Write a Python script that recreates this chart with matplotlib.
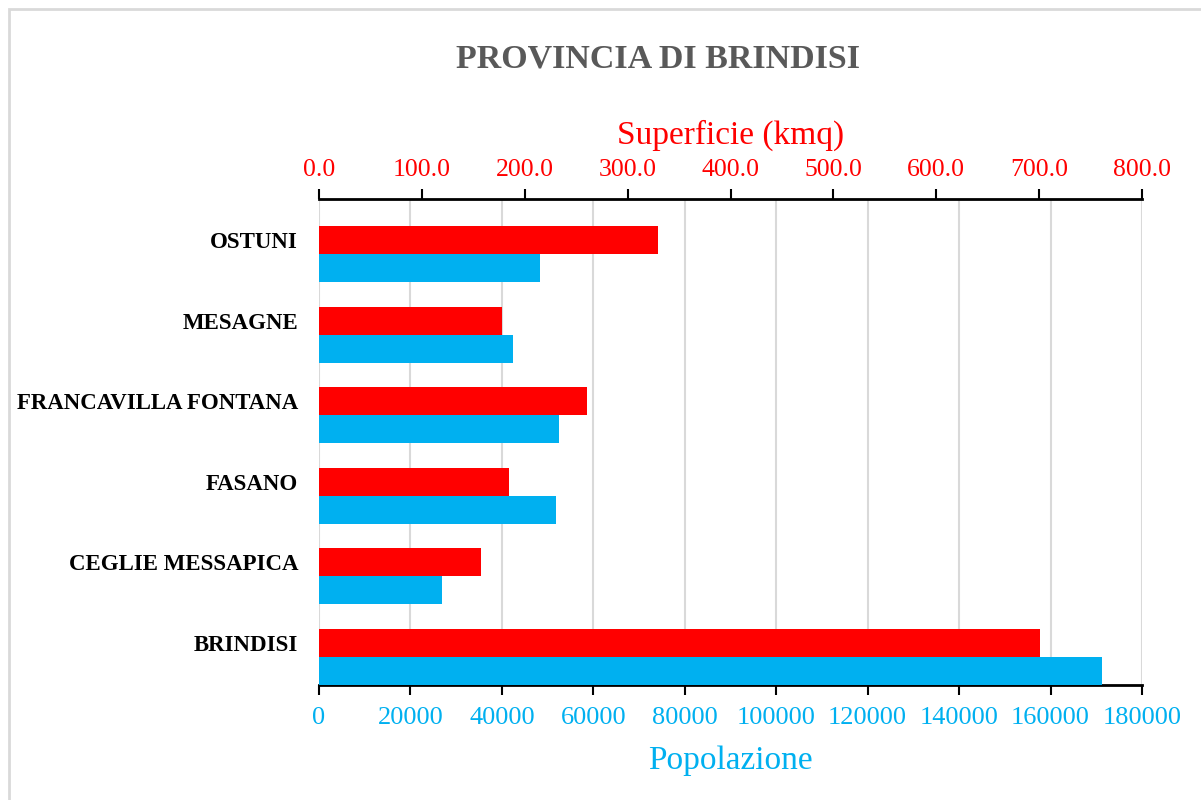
import matplotlib.pyplot as plt
from matplotlib.patches import Rectangle

comuni = ["BRINDISI", "CEGLIE MESSAPICA", "FASANO", "FRANCAVILLA FONTANA", "MESAGNE", "OSTUNI"]
popolazione = [171200, 26900, 51800, 52500, 42400, 48300]
superficie = [701.3, 157.4, 184.6, 260.4, 177.8, 329.4]

RED = "#FF0000"
BLUE = "#00B0F0"
plt.rcParams["font.family"] = ["Liberation Serif", "DejaVu Serif"]

fig = plt.figure(figsize=(12.01, 8.0), dpi=100)
ax = fig.add_axes([319 / 1201, 1 - 685 / 800, 823 / 1201, 486 / 800])

pos = list(range(len(comuni)))
h = 0.347

# popolazione (bottom axis)
ax.barh([p - h / 2 for p in pos], popolazione, height=h, color=BLUE, zorder=3)
ax.set_xlim(0, 180000)
ax.set_ylim(-h, -h + 486 / 80.6)
ax.set_xticks(range(0, 180001, 20000))
ax.grid(axis="x", color="#D9D9D9", linewidth=1.5, zorder=0)
ax.set_axisbelow(True)
ax.tick_params(axis="x", colors=BLUE, labelsize=19, length=7, width=1.5, direction="out", pad=9)
ax.tick_params(axis="x", color="black")
ax.set_yticks([p + h / 2 for p in pos])
ax.set_yticklabels(comuni, fontsize=16.5, fontweight="bold")
ax.tick_params(axis="y", length=0, pad=15)
for s in ["left", "right", "top"]:
    ax.spines[s].set_visible(False)
ax.spines["bottom"].set_linewidth(2)
ax.set_xlabel("Popolazione", color=BLUE, fontsize=24, labelpad=12)

# superficie (top axis)
ax2 = ax.twiny()
ax2.barh([p + h / 2 for p in pos], superficie, height=h, color=RED, zorder=3)
ax2.set_xlim(0, 800)
ax2.set_xticks(range(0, 801, 100))
ax2.set_xticklabels([f"{v:.1f}" for v in range(0, 801, 100)])
ax2.tick_params(axis="x", colors=RED, labelsize=18.5, length=7, width=1.5, direction="out", pad=6)
ax2.tick_params(axis="x", color="black")
for s in ["left", "right", "bottom"]:
    ax2.spines[s].set_visible(False)
ax2.spines["top"].set_linewidth(2)
ax2.set_xlabel("Superficie (kmq)", color=RED, fontsize=24, labelpad=11)

fig.text(658 / 1201, 1 - 59 / 800, "PROVINCIA DI BRINDISI", ha="center", va="center",
         fontsize=24.5, fontweight="bold", color="#595959")

fig.patches.append(Rectangle((9 / 1201, -0.01), 1.1, 1 - 9 / 800 + 0.01, transform=fig.transFigure,
                             fill=False, edgecolor="#D9D9D9", linewidth=2))

fig.savefig("out.png", dpi=100)
